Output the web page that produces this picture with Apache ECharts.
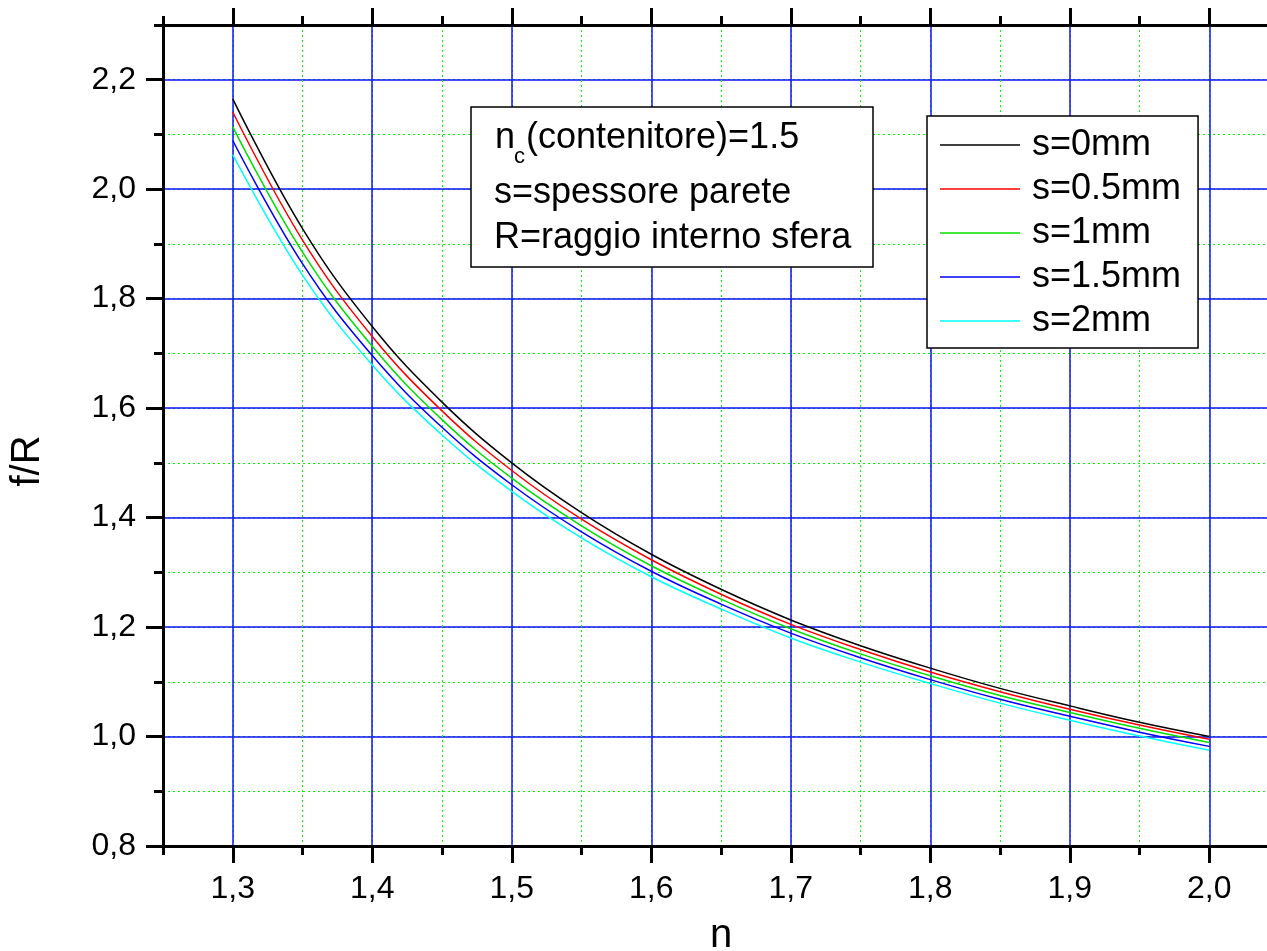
<!DOCTYPE html>
<html>
<head>
<meta charset="utf-8">
<title>f/R vs n</title>
<script src="https://cdn.jsdelivr.net/npm/echarts@6.0.0/dist/echarts.min.js"></script>
<style>
  html, body { margin: 0; padding: 0; overflow: hidden; background: #fff; }
  #chart { width: 1300px; height: 951px; }
</style>
</head>
<body>
<div id="chart"></div>
<script>
// refractive index of the sphere content
const nValues = [1.30, 1.35, 1.40, 1.45, 1.50, 1.55, 1.60, 1.65, 1.70, 1.75, 1.80, 1.85, 1.90, 1.95, 2.00]
// f/R for each wall thickness s
const fR_s0   = [2.165, 1.928, 1.749, 1.611, 1.500, 1.409, 1.333, 1.269, 1.213, 1.166, 1.125, 1.088, 1.056, 1.026, 1.000]
const fR_s05  = [2.141, 1.907, 1.731, 1.595, 1.486, 1.397, 1.323, 1.260, 1.205, 1.159, 1.118, 1.082, 1.050, 1.021, 0.995]
const fR_s1   = [2.114, 1.885, 1.713, 1.579, 1.472, 1.385, 1.312, 1.251, 1.197, 1.151, 1.111, 1.075, 1.044, 1.015, 0.989]
const fR_s15  = [2.089, 1.864, 1.696, 1.565, 1.460, 1.374, 1.302, 1.242, 1.189, 1.144, 1.104, 1.068, 1.037, 1.008, 0.982]
const fR_s2   = [2.063, 1.843, 1.679, 1.551, 1.448, 1.363, 1.292, 1.233, 1.180, 1.136, 1.097, 1.061, 1.030, 1.001, 0.975]

const seriesNames = ['s=0mm', 's=0.5mm', 's=1mm', 's=1.5mm', 's=2mm']
const seriesColors = ['#000000', '#ff0000', '#00e000', '#0000ff', '#00ffff']

// tick labels
const xMajorTicks = [1.3, 1.4, 1.5, 1.6, 1.7, 1.8, 1.9, 2.0]
const yMajorTicks = [0.8, 1.0, 1.2, 1.4, 1.6, 1.8, 2.0, 2.2]

const FONT = '"Liberation Sans", Arial, sans-serif'
const comma = v => Number(v).toFixed(1).replace('.', ',')

const chart = echarts.init(document.getElementById('chart'))

const axisLine = { show: true, onZero: false, lineStyle: { color: '#000', width: 3 } }
const majorGrid = { show: true, lineStyle: { color: '#1010ff', width: 1.5, type: 'solid' } }
const minorGrid = { show: true, lineStyle: { color: '#00ff00', width: 1, type: [2, 3] } }

// x: minor (0.05) and major (0.1) axes, bottom and top
function xAxisOf(position, major) {
  return {
    type: 'value',
    position: position,
    min: 1.25,
    max: 2.05,
    interval: major ? undefined : 0.05,
    axisLine: axisLine,
    axisTick: major
      ? { show: true, customValues: xMajorTicks, length: 17, lineStyle: { color: '#000', width: 3 } }
      : { show: true, length: 9, lineStyle: { color: '#000', width: 3 } },
    axisLabel: major && position === 'bottom'
      ? { show: true, customValues: xMajorTicks, formatter: comma, fontSize: 32, fontFamily: FONT, color: '#000', margin: 27 }
      : { show: false },
    splitLine: position === 'bottom' ? (major ? majorGrid : minorGrid) : { show: false }
  }
}

const xAxes = [
  xAxisOf('bottom', false),
  xAxisOf('bottom', true),
  xAxisOf('top', false),
  xAxisOf('top', true)
]

const yAxes = [
  {
    type: 'value',
    position: 'left',
    min: 0.8,
    max: 2.3,
    interval: 0.1,
    axisLine: axisLine,
    axisTick: { show: true, length: 9, lineStyle: { color: '#000', width: 3 } },
    axisLabel: { show: false },
    splitLine: minorGrid
  },
  {
    type: 'value',
    position: 'left',
    min: 0.8,
    max: 2.3,
    axisLine: axisLine,
    axisTick: { show: true, customValues: yMajorTicks, length: 17, lineStyle: { color: '#000', width: 3 } },
    axisLabel: { show: true, customValues: yMajorTicks, formatter: comma, fontSize: 32, fontFamily: FONT, color: '#000', margin: 27 },
    splitLine: majorGrid
  }
]

const allValues = [fR_s0, fR_s05, fR_s1, fR_s15, fR_s2]
const series = allValues.map((vals, i) => ({
  name: seriesNames[i],
  type: 'line',
  xAxisIndex: 0,
  yAxisIndex: 0,
  data: nValues.map((n, k) => [n, vals[k]]),
  symbol: 'none',
  smooth: 0.4,
  lineStyle: { color: seriesColors[i], width: 1.5 },
  itemStyle: { color: seriesColors[i] },
  z: 3
}))

const option = {
  animation: false,
  backgroundColor: '#fff',
  grid: { left: 163, top: 25, width: 1116, height: 821, containLabel: false },
  xAxis: xAxes,
  yAxis: yAxes,
  legend: {
    orient: 'vertical',
    left: 927,
    top: 116,
    padding: [11, 17, 9, 13],
    itemGap: 8,
    itemWidth: 80,
    itemHeight: 1.5,
    icon: 'rect',
    backgroundColor: '#fff',
    borderColor: '#000',
    borderWidth: 1.5,
    textStyle: { fontSize: 36, fontFamily: FONT, color: '#000', lineHeight: 36, padding: [0, 0, 0, 7] },
    data: seriesNames,
    z: 10
  },
  graphic: [
    // annotation box
    { type: 'rect', z: 10, shape: { x: 471, y: 107, width: 402, height: 160 },
      style: { fill: '#fff', stroke: '#000', lineWidth: 1.5 } },
    { type: 'text', z: 11, x: 495, y: 138,
      style: { text: 'n', font: '36px ' + FONT, fill: '#000', textVerticalAlign: 'middle' } },
    { type: 'text', z: 11, x: 514, y: 157,
      style: { text: 'c', font: '22px ' + FONT, fill: '#000', textVerticalAlign: 'middle' } },
    { type: 'text', z: 11, x: 526, y: 138,
      style: { text: '(contenitore)=1.5', font: '36px ' + FONT, fill: '#000', textVerticalAlign: 'middle' } },
    { type: 'text', z: 11, x: 494, y: 193,
      style: { text: 's=spessore parete', font: '36px ' + FONT, fill: '#000', textVerticalAlign: 'middle' } },
    { type: 'text', z: 11, x: 494, y: 238,
      style: { text: 'R=raggio interno sfera', font: '36px ' + FONT, fill: '#000', textVerticalAlign: 'middle' } },
    // axis titles
    { type: 'text', z: 11, x: 721, y: 936,
      style: { text: 'n', font: '40px ' + FONT, fill: '#000', textAlign: 'center', textVerticalAlign: 'middle' } },
    { type: 'text', z: 11, x: 28, y: 461, rotation: Math.PI / 2,
      style: { text: 'f/R', font: '40px ' + FONT, fill: '#000', textAlign: 'center', textVerticalAlign: 'middle' } }
  ],
  series: series
}

chart.setOption(option)
</script>
</body>
</html>
